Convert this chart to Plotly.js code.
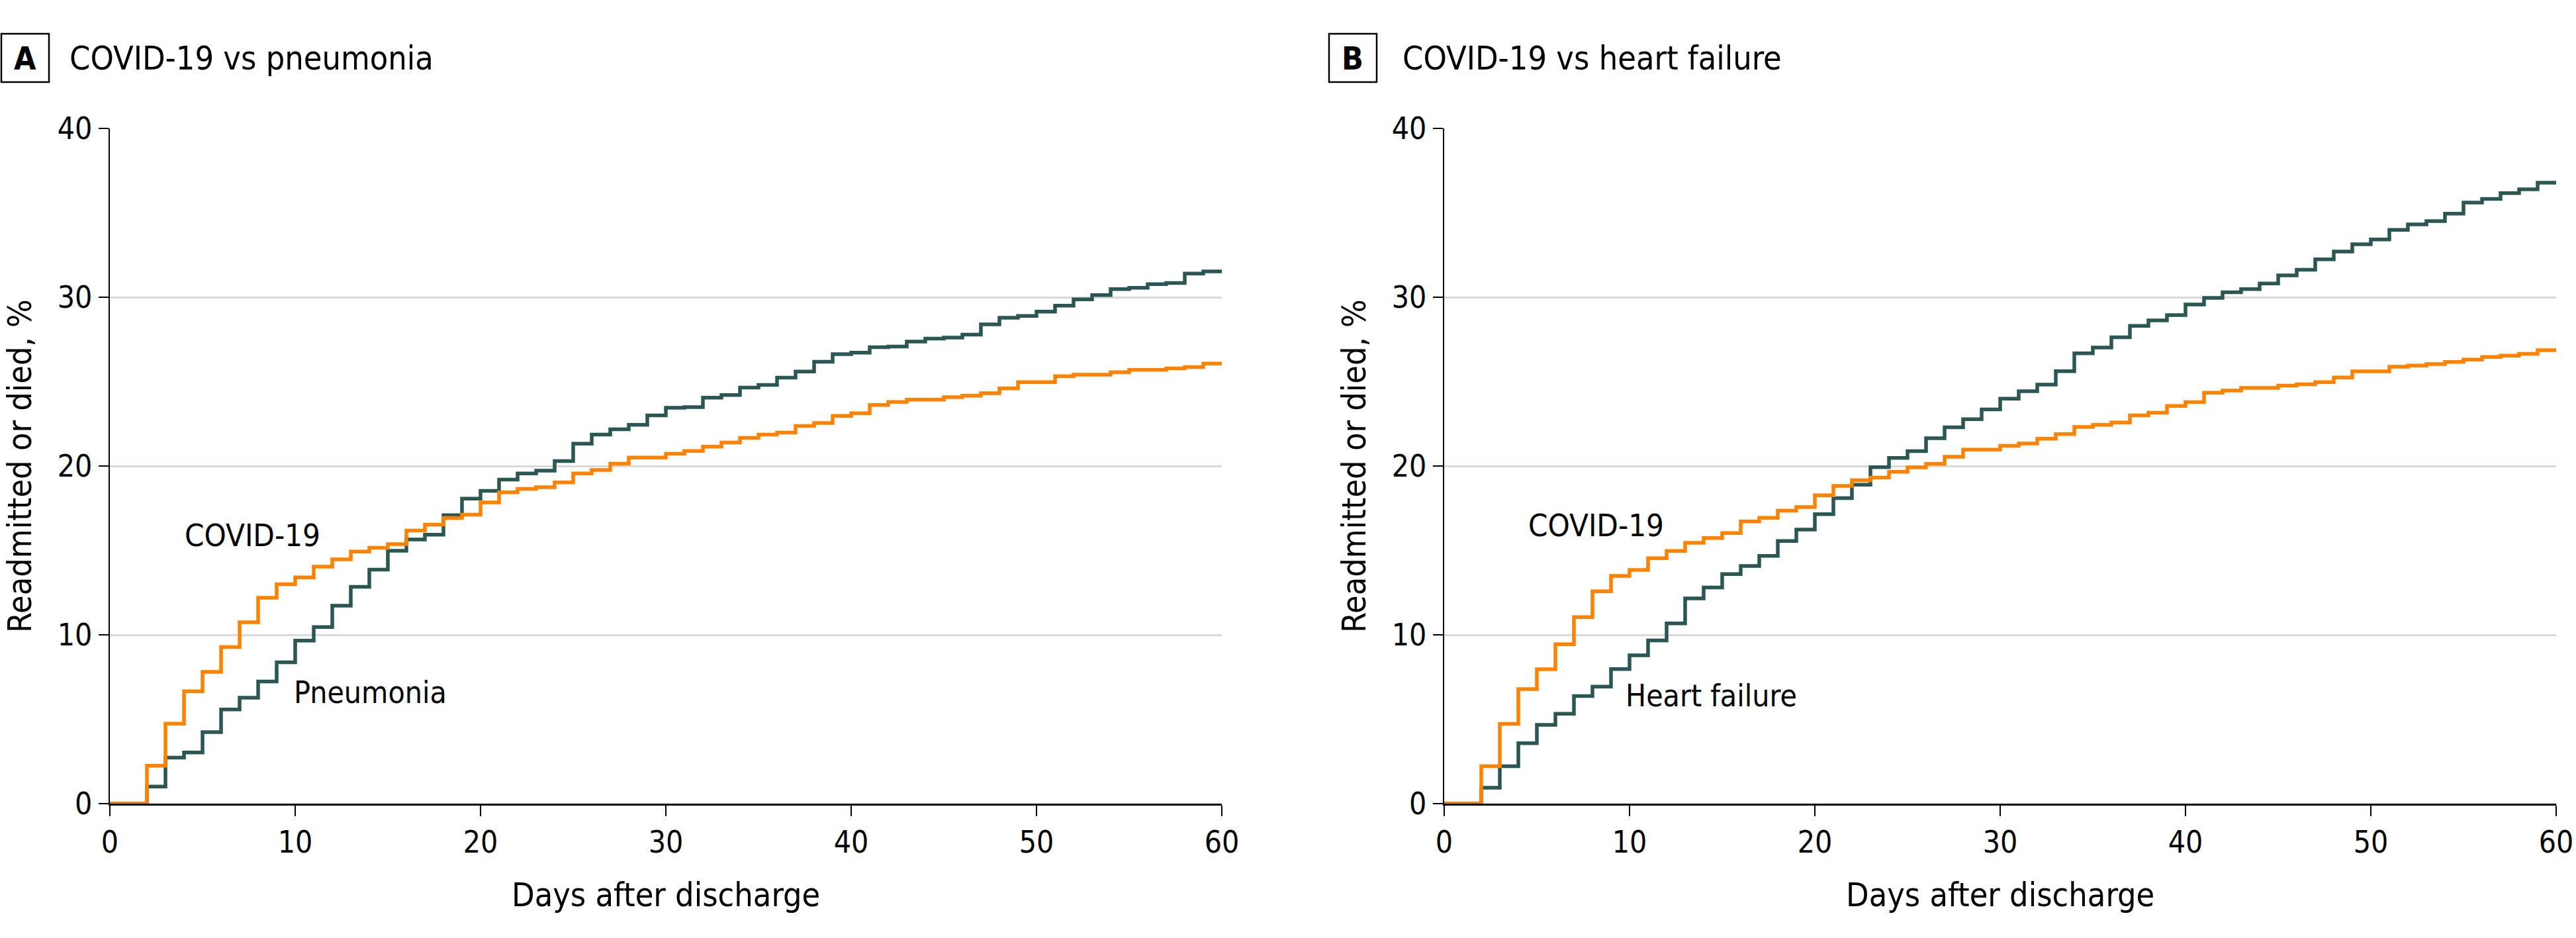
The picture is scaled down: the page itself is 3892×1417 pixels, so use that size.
<!DOCTYPE html>
<html>
<head>
<meta charset="utf-8">
<script src="https://cdn.plot.ly/plotly-3.0.1.min.js"></script>
<style>
html,body{margin:0;padding:0;background:#fff;}
#chart{width:3892px;height:1417px;}
</style>
</head>
<body>
<div id="chart"></div>
<script>
// Days after discharge (step starts) 0..59, final point at 60
const days = [];
for (let d = 0; d <= 60; d++) days.push(d);

// Panel A: COVID-19 vs pneumonia (cumulative % readmitted or died)
const covidA = [0, 0, 2.25, 4.74, 6.66, 7.8, 9.27, 10.75, 12.2, 13.0,
  13.4, 14.04, 14.47, 14.93, 15.16, 15.37, 16.18, 16.53, 16.92, 17.12,
  17.84, 18.44, 18.65, 18.75, 19.03, 19.56, 19.76, 20.14, 20.5, 20.5,
  20.73, 20.89, 21.15, 21.39, 21.67, 21.86, 21.98, 22.37, 22.55, 22.97,
  23.13, 23.62, 23.79, 23.93, 23.93, 24.08, 24.17, 24.31, 24.6, 24.97,
  24.97, 25.32, 25.41, 25.41, 25.56, 25.7, 25.7, 25.78, 25.86, 26.07];
const pneumonia = [0, 0, 1.01, 2.73, 3.03, 4.24, 5.58, 6.27, 7.24, 8.37,
  9.66, 10.46, 11.73, 12.84, 13.86, 14.98, 15.65, 15.93, 17.09, 18.07,
  18.53, 19.2, 19.56, 19.73, 20.29, 21.32, 21.86, 22.18, 22.44, 23.0,
  23.45, 23.49, 24.05, 24.21, 24.65, 24.8, 25.24, 25.6, 26.18, 26.63,
  26.72, 27.04, 27.08, 27.37, 27.55, 27.61, 27.78, 28.39, 28.78, 28.89,
  29.15, 29.5, 29.87, 30.13, 30.48, 30.56, 30.77, 30.84, 31.4, 31.53];

// Panel B: COVID-19 vs heart failure
const covidB = [0, 0, 2.22, 4.73, 6.78, 7.96, 9.44, 11.05, 12.58, 13.49,
  13.84, 14.54, 14.97, 15.45, 15.74, 16.03, 16.72, 16.93, 17.35, 17.57,
  18.26, 18.82, 19.16, 19.31, 19.66, 19.92, 20.13, 20.55, 20.97, 20.97,
  21.2, 21.33, 21.62, 21.89, 22.31, 22.44, 22.58, 23.0, 23.16, 23.56,
  23.78, 24.34, 24.47, 24.63, 24.63, 24.76, 24.84, 24.97, 25.25, 25.61,
  25.61, 25.88, 25.95, 26.04, 26.17, 26.3, 26.46, 26.54, 26.65, 26.86];
const heartFailure = [0, 0, 0.94, 2.22, 3.58, 4.67, 5.32, 6.37, 6.93, 7.97,
  8.78, 9.67, 10.68, 12.16, 12.8, 13.6, 14.08, 14.68, 15.56, 16.24,
  17.15, 18.1, 18.89, 19.93, 20.48, 20.88, 21.65, 22.29, 22.77, 23.35,
  23.99, 24.43, 24.82, 25.62, 26.68, 27.02, 27.63, 28.3, 28.63, 28.94,
  29.57, 29.96, 30.29, 30.48, 30.81, 31.29, 31.63, 32.25, 32.71, 33.14,
  33.42, 33.99, 34.31, 34.51, 34.95, 35.61, 35.82, 36.17, 36.39, 36.78];

const xTicks = [0, 10, 20, 30, 40, 50, 60];
const yTicks = [0, 10, 20, 30, 40];
const panelTitles = ["COVID-19 vs pneumonia", "COVID-19 vs heart failure"];
const panelLetters = ["A", "B"];
const xTitle = "Days after discharge";
const yTitle = "Readmitted or died, %";

const ORANGE = "#ff8200";
const DARK = "#2a5654";
const FONT = "Liberation Sans Narrow, DejaVu Sans Condensed, Arial Narrow, sans-serif";

function withEnd(arr) { return arr.concat([arr[arr.length - 1]]); }

function stepTrace(y, color, xa, ya) {
  return {
    x: days, y: withEnd(y), type: "scatter", mode: "lines",
    line: {shape: "hv", color: color, width: 5.5},
    xaxis: xa, yaxis: ya, cliponaxis: false, hoverinfo: "skip", showlegend: false
  };
}

const traces = [
  stepTrace(pneumonia, DARK, "x", "y"),
  stepTrace(covidA, ORANGE, "x", "y"),
  stepTrace(heartFailure, DARK, "x2", "y2"),
  stepTrace(covidB, ORANGE, "x2", "y2")
];

const W = 3892, H = 1417;
const px = v => v / W;
const py = v => 1 - v / H;

function xAxis(dom) {
  return {
    domain: dom, range: [0, 60], tickvals: xTicks, ticktext: xTicks.map(String),
    showgrid: false, zeroline: false, showline: true, linecolor: "#000", linewidth: 3,
    ticks: "outside", ticklen: 16, tickwidth: 2.5, tickcolor: "#000",
    tickfont: {family: FONT, size: 46, color: "#000"}, layer: "below traces", fixedrange: true
  };
}
function yAxis(anchor) {
  return {
    domain: [1 - 1214 / H, 1 - 194 / H], range: [0, 40], tickvals: yTicks, ticktext: yTicks.map(String),
    showgrid: true, gridcolor: "#d9d9d9", gridwidth: 3, zeroline: false,
    showline: true, linecolor: "#000", linewidth: 2.5,
    ticks: "outside", ticklen: 15, tickwidth: 2.5, tickcolor: "#000",
    tickfont: {family: FONT, size: 46, color: "#000"}, anchor: anchor, layer: "below traces", fixedrange: true
  };
}

const domA = [px(166), px(1846)];
const domB = [px(2182), px(3862)];

const ann = [];
const shapes = [];
const panels = [
  {dom: domA, boxL: 2, boxR: 74, titleX: 103, ycx: 30},
  {dom: domB, boxL: 2008, boxR: 2080, titleX: 2117, ycx: 2046}
];
panels.forEach((p, i) => {
  shapes.push({type: "rect", xref: "paper", yref: "paper",
    x0: px(p.boxL), x1: px(p.boxR), y0: py(124), y1: py(51),
    line: {color: "#000", width: 2.5}, fillcolor: "rgba(0,0,0,0)"});
  ann.push({xref: "paper", yref: "paper", x: px((p.boxL + p.boxR) / 2), y: py(88),
    xanchor: "center", yanchor: "middle", text: "<b>" + panelLetters[i] + "</b>", showarrow: false,
    font: {family: FONT, size: 48, color: "#000"}});
  ann.push({xref: "paper", yref: "paper", x: px(p.titleX), y: py(88),
    xanchor: "left", yanchor: "middle", text: panelTitles[i], showarrow: false,
    font: {family: FONT, size: 50, color: "#000"}});
  ann.push({xref: "paper", yref: "paper", x: (p.dom[0] + p.dom[1]) / 2, y: py(1352),
    xanchor: "center", yanchor: "middle", text: xTitle, showarrow: false,
    font: {family: FONT, size: 50, color: "#000"}});
  ann.push({xref: "paper", yref: "paper", x: px(p.ycx), y: py(704),
    xanchor: "center", yanchor: "middle", text: yTitle, textangle: -90, showarrow: false,
    font: {family: FONT, size: 50, color: "#000"}});
});

// Curve labels
ann.push({xref: "x", yref: "y", x: 7.7, y: 15.9, text: "COVID-19", showarrow: false,
  xanchor: "center", yanchor: "middle", font: {family: FONT, size: 47, color: "#000"}});
ann.push({xref: "x", yref: "y", x: 9.85, y: 6.6, text: "Pneumonia", showarrow: false,
  xanchor: "left", yanchor: "middle", font: {family: FONT, size: 46, color: "#000"}});
ann.push({xref: "x2", yref: "y2", x: 8.2, y: 16.5, text: "COVID-19", showarrow: false,
  xanchor: "center", yanchor: "middle", font: {family: FONT, size: 47, color: "#000"}});
ann.push({xref: "x2", yref: "y2", x: 9.7, y: 6.4, text: "Heart failure", showarrow: false,
  xanchor: "left", yanchor: "middle", font: {family: FONT, size: 46, color: "#000"}});

const layout = {
  width: W, height: H,
  margin: {l: 0, r: 0, t: 0, b: 0, pad: 0},
  paper_bgcolor: "#fff", plot_bgcolor: "#fff",
  xaxis: Object.assign(xAxis(domA), {anchor: "y"}),
  yaxis: yAxis("x"),
  xaxis2: Object.assign(xAxis(domB), {anchor: "y2"}),
  yaxis2: yAxis("x2"),
  annotations: ann, shapes: shapes, showlegend: false,
  font: {family: FONT, color: "#000"}
};

Plotly.newPlot("chart", traces, layout, {staticPlot: true, displayModeBar: false});
</script>
</body>
</html>
